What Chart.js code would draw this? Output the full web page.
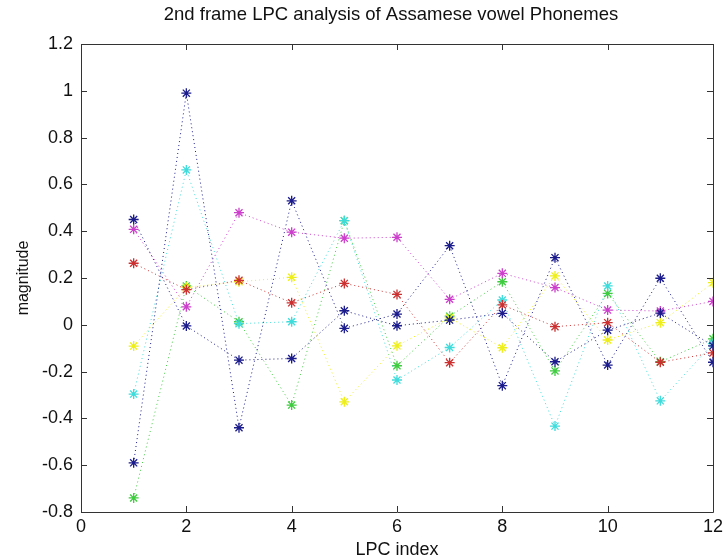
<!DOCTYPE html>
<html>
<head>
<meta charset="utf-8">
<script src="https://cdn.jsdelivr.net/npm/chart.js@4.4.1/dist/chart.umd.min.js"></script>
<style>
  html, body { margin: 0; padding: 0; background: #ffffff; }
  #c { display: block; }
</style>
</head>
<body>
<canvas id="c" width="727" height="559"></canvas>
<script>
// LPC coefficient index (x) for the 2nd analysis frame
const lpcIndex = [1, 2, 3, 4, 5, 6, 7, 8, 9, 10, 11, 12];

// LPC magnitudes, one array per vowel phoneme
const vowelNavyA = [-0.59, 0.99, -0.44, 0.53, -0.015, 0.046, 0.338, -0.26, 0.287, -0.172, 0.199, -0.16];
const vowelNavyB = [0.45, -0.005, -0.151, -0.144, 0.060, -0.004, 0.020, 0.049, -0.158, -0.023, 0.05, -0.09];
const vowelCyan = [-0.296, 0.662, 0.005, 0.013, 0.445, -0.236, -0.097, 0.106, -0.433, 0.166, -0.325, -0.08];
const vowelMagenta = [0.408, 0.077, 0.479, 0.396, 0.370, 0.374, 0.109, 0.220, 0.159, 0.063, 0.059, 0.10];
const vowelRed = [0.263, 0.15, 0.19, 0.094, 0.177, 0.130, -0.162, 0.085, -0.008, 0.009, -0.16, -0.12];
const vowelYellow = [-0.091, 0.16, 0.184, 0.203, -0.329, -0.090, 0.03, -0.098, 0.209, -0.065, 0.009, 0.18];
const vowelGreen = [-0.74, 0.166, 0.013, -0.343, 0.445, -0.175, 0.037, 0.184, -0.197, 0.134, -0.158, -0.06];

// Axis tick values
const xTicks = [0, 2, 4, 6, 8, 10, 12];
const yTicks = [-0.8, -0.6, -0.4, -0.2, 0, 0.2, 0.4, 0.6, 0.8, 1, 1.2];

const chartTitle = '2nd frame LPC analysis of Assamese vowel Phonemes';
const FONT = "'Liberation Sans', Arial, sans-serif";

function series(values, color) {
  return {
    data: lpcIndex.map((x, i) => ({ x: x, y: values[i] })),
    showLine: true,
    borderColor: color,
    backgroundColor: color,
    borderWidth: 1,
    borderDash: [1, 3],
    pointStyle: 'star',
    pointRadius: 5,
    pointBorderWidth: 1.3,
    pointBorderColor: color,
    pointHoverRadius: 5
  };
}

// Box around the plot with inward tick marks on all four sides,
// plus the title centred over the axes box
const boxTicks = {
  id: 'boxTicks',
  afterDraw(chart) {
    const { ctx, chartArea: a, scales } = chart;
    const len = 6;
    ctx.save();
    ctx.strokeStyle = '#333333';
    ctx.lineWidth = 1;
    ctx.beginPath();
    ctx.rect(Math.round(a.left) + 0.5, Math.round(a.top) + 0.5,
             Math.round(a.right - a.left), Math.round(a.bottom - a.top));
    xTicks.forEach(v => {
      const px = Math.round(scales.x.getPixelForValue(v)) + 0.5;
      ctx.moveTo(px, a.bottom); ctx.lineTo(px, a.bottom - len);
      ctx.moveTo(px, a.top); ctx.lineTo(px, a.top + len);
    });
    yTicks.forEach(v => {
      const py = Math.round(scales.y.getPixelForValue(v)) + 0.5;
      ctx.moveTo(a.left, py); ctx.lineTo(a.left + len, py);
      ctx.moveTo(a.right, py); ctx.lineTo(a.right - len, py);
    });
    ctx.stroke();

    ctx.fillStyle = '#111111';
    ctx.font = '18.5px ' + FONT;
    ctx.textAlign = 'center';
    ctx.textBaseline = 'middle';
    ctx.fillText(chartTitle, (a.left + a.right) / 2 - 6, 15);
    ctx.restore();
  }
};

new Chart(document.getElementById('c'), {
  type: 'scatter',
  data: {
    datasets: [
      series(vowelNavyA, '#1c1c8c'),
      series(vowelNavyB, '#1c1c8c'),
      series(vowelRed, '#cc3030'),
      series(vowelYellow, '#eeee1a'),
      series(vowelCyan, '#40dcdc'),
      series(vowelMagenta, '#cc40cc'),
      series(vowelGreen, '#40cc40')
    ]
  },
  options: {
    responsive: false,
    devicePixelRatio: 1,
    animation: false,
    layout: { padding: { left: 0, right: 10, top: 44, bottom: 0 } },
    plugins: {
      legend: { display: false },
      tooltip: { enabled: false },
      title: { display: false }
    },
    scales: {
      x: {
        type: 'linear',
        min: 0,
        max: 12,
        afterFit(s) { s.height = 47; },
        afterBuildTicks(s) { s.ticks = xTicks.map(v => ({ value: v })); },
        grid: { display: false, drawTicks: false },
        border: { display: false },
        ticks: {
          color: '#111111',
          padding: 4,
          maxRotation: 0,
          font: { family: FONT, size: 18 },
          callback: v => String(v)
        },
        title: {
          display: true,
          text: 'LPC index',
          color: '#111111',
          font: { family: FONT, size: 18, lineHeight: 1 },
          padding: { top: 0, bottom: 0 }
        }
      },
      y: {
        type: 'linear',
        min: -0.8,
        max: 1.2,
        afterFit(s) { s.width = 81; },
        afterBuildTicks(s) { s.ticks = yTicks.map(v => ({ value: v })); },
        grid: { display: false, drawTicks: false },
        border: { display: false },
        ticks: {
          color: '#111111',
          padding: 8,
          font: { family: FONT, size: 18 },
          callback: v => String(Math.round(v * 10) / 10)
        },
        title: {
          display: true,
          text: 'magnitude',
          color: '#111111',
          font: { family: FONT, size: 16, lineHeight: 1.2 },
          padding: { top: 14, bottom: 0 }
        }
      }
    }
  },
  plugins: [boxTicks]
});
</script>
</body>
</html>
